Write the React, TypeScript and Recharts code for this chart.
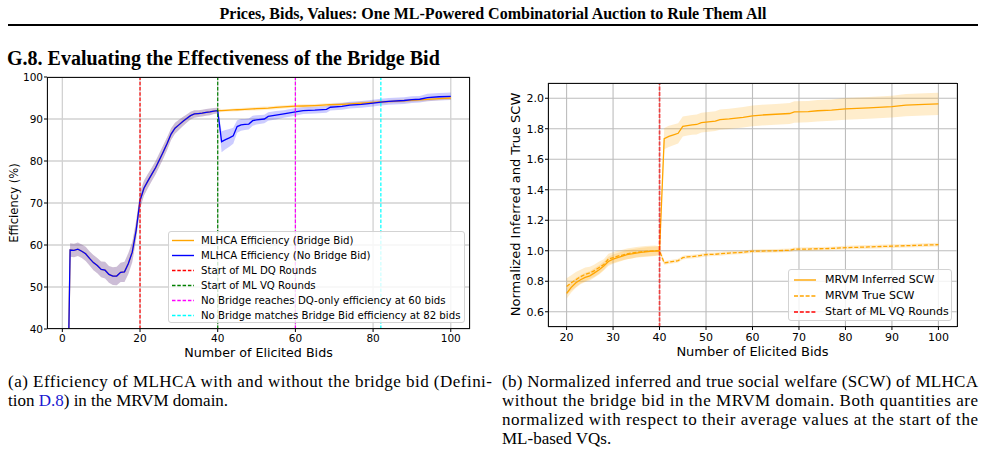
import React from "react";
import {
  ComposedChart,
  Line,
  Area,
  XAxis,
  YAxis,
  CartesianGrid,
  ReferenceLine,
} from "recharts";

// ---- (a) efficiency with / without bridge bid ----
const bidsA = [
  1, 2, 3, 4, 5, 6, 7, 8, 9, 10, 11, 12, 13, 14, 15, 16, 17, 18, 19, 20,
  21, 22, 23, 24, 25, 26, 27, 28, 29, 30, 31, 32, 33, 34, 35, 36, 37, 38, 39, 40,
  41, 42, 43, 44, 45, 46, 47, 48, 49, 50, 52, 53, 55, 57, 60, 62, 65, 68, 69, 72,
  74, 77, 80, 82, 84, 88, 90, 92, 94, 97, 100,
];

// rounds 1..40 are identical for both variants
const warmupEff = [
  0, 58.8, 58.7, 59.0, 58.5, 57.9, 56.8, 55.8, 55.1, 54.2,
  54.0, 53.0, 52.6, 52.6, 53.5, 53.6, 55.6, 58.3, 63.5, 70.6,
  73.5, 75.2, 76.8, 78.4, 80.3, 82.2, 84.2, 86.4, 87.8, 88.6,
  89.4, 90.1, 90.8, 91.2, 91.3, 91.4, 91.6, 91.7, 91.9, 92.0,
];
const warmupStd = [
  0, 1.6, 1.6, 1.6, 1.6, 1.7, 1.7, 1.8, 1.8, 1.9,
  2.0, 2.0, 2.1, 2.2, 2.3, 2.4, 2.5, 2.4, 2.2, 2.0,
  1.8, 1.7, 1.6, 1.6, 1.6, 1.6, 1.5, 1.4, 1.3, 1.2,
  1.1, 1.0, 0.9, 0.9, 0.8, 0.8, 0.8, 0.8, 0.7, 0.7,
];

const bridgeTail = [
  92.0, 92.05, 92.1, 92.15, 92.2, 92.25, 92.3, 92.35, 92.4, 92.45,
  92.55, 92.6, 92.75, 92.9, 93.05, 93.1, 93.2, 93.35, 93.4, 93.5,
  93.6, 93.75, 93.95, 94.05, 94.15, 94.35, 94.45, 94.55, 94.65, 94.85, 95.0,
];
const bridgeTailStd = [
  0.3, 0.3, 0.3, 0.35, 0.35, 0.35, 0.35, 0.4, 0.4, 0.4,
  0.4, 0.4, 0.4, 0.4, 0.4, 0.4, 0.4, 0.4, 0.4, 0.4,
  0.4, 0.4, 0.4, 0.4, 0.4, 0.4, 0.4, 0.4, 0.4, 0.4, 0.4,
];
const noBridgeTail = [
  84.6, 85.1, 85.5, 86.0, 88.2, 88.6, 88.7, 88.8, 89.6, 89.8,
  90.0, 90.6, 90.9, 91.2, 91.7, 92.0, 92.1, 92.3, 92.8, 93.0,
  93.3, 93.5, 93.8, 94.0, 94.2, 94.4, 94.6, 94.7, 95.1, 95.3, 95.4,
];
const noBridgeTailStd = [
  2.5, 2.3, 2.1, 1.9, 1.5, 1.4, 1.3, 1.3, 1.2, 1.1,
  1.0, 1.0, 1.0, 0.9, 0.9, 0.8, 0.8, 0.8, 0.8, 0.8,
  0.8, 0.8, 0.8, 0.8, 0.8, 0.8, 0.8, 0.8, 0.9, 0.9, 0.9,
];

const bridgeEff = [...warmupEff, ...bridgeTail];
const bridgeStd = [...warmupStd, ...bridgeTailStd];
const noBridgeEff = [...warmupEff, ...noBridgeTail];
const noBridgeStd = [...warmupStd, ...noBridgeTailStd];

const effTicksX = [0, 20, 40, 60, 80, 100];
const effTicksY = [40, 50, 60, 70, 80, 90, 100];

// ---- (b) normalized inferred / true SCW ----
const bidsB = [
  20, 21, 22, 23, 24, 25, 26, 27, 28, 29, 30, 31, 32, 33, 34, 35, 36, 37, 38, 39, 40,
  41, 42, 43, 44, 45, 46, 47, 48, 49, 50,
  52, 53, 55, 58, 60, 62, 65, 68, 69, 72, 74, 77, 80, 85, 90, 93, 97, 100,
];
const inferredScw = [
  0.72, 0.76, 0.79, 0.81, 0.825, 0.835, 0.855, 0.875, 0.9, 0.93, 0.945,
  0.955, 0.965, 0.975, 0.98, 0.985, 0.99, 0.993, 0.996, 0.998, 1.0,
  1.735, 1.75, 1.76, 1.77, 1.815, 1.82, 1.825, 1.828, 1.84, 1.843,
  1.85, 1.86, 1.865, 1.875, 1.885, 1.89, 1.895, 1.9, 1.91, 1.912,
  1.918, 1.922, 1.93, 1.937, 1.945, 1.955, 1.96, 1.963,
];
const inferredStd = [
  0.035, 0.033, 0.032, 0.03, 0.03, 0.03, 0.03, 0.03, 0.03, 0.03, 0.03,
  0.03, 0.03, 0.03, 0.03, 0.03, 0.03, 0.03, 0.03, 0.03, 0.03,
  0.07, 0.07, 0.068, 0.066, 0.066, 0.065, 0.065, 0.065, 0.065, 0.065,
  0.065, 0.066, 0.066, 0.067, 0.068, 0.068, 0.068, 0.069, 0.07, 0.07,
  0.07, 0.07, 0.071, 0.072, 0.072, 0.073, 0.073, 0.073,
];
const trueScw = [
  0.765, 0.79, 0.81, 0.83, 0.845, 0.855, 0.87, 0.89, 0.91, 0.945, 0.955,
  0.965, 0.972, 0.98, 0.985, 0.99, 0.993, 0.996, 0.998, 1.0, 1.0,
  0.92, 0.925, 0.93, 0.935, 0.955, 0.96, 0.962, 0.965, 0.97, 0.975,
  0.977, 0.98, 0.985, 0.99, 0.997, 0.998, 1.0, 1.003, 1.01, 1.011,
  1.013, 1.015, 1.02, 1.025, 1.03, 1.033, 1.037, 1.04,
];
const trueStd = [
  0.055, 0.05, 0.05, 0.045, 0.045, 0.04, 0.04, 0.04, 0.035, 0.035, 0.035,
  0.035, 0.035, 0.035, 0.035, 0.035, 0.035, 0.035, 0.035, 0.035, 0.03,
  0.012, 0.012, 0.012, 0.012, 0.012, 0.012, 0.012, 0.012, 0.012, 0.012,
  0.012, 0.012, 0.012, 0.012, 0.012, 0.012, 0.012, 0.012, 0.012, 0.012,
  0.012, 0.012, 0.012, 0.012, 0.012, 0.012, 0.012, 0.012,
];

const scwTicksX = [20, 30, 40, 50, 60, 70, 80, 90, 100];
const scwTicksY = [0.6, 0.8, 1.0, 1.2, 1.4, 1.6, 1.8, 2.0];

const effLegend = [
  { label: "MLHCA Efficiency (Bridge Bid)", color: "#ffa500", dash: "" },
  { label: "MLHCA Efficiency (No Bridge Bid)", color: "#0000ff", dash: "" },
  { label: "Start of ML DQ Rounds", color: "#ff0000", dash: "3.5 1.8" },
  { label: "Start of ML VQ Rounds", color: "#008000", dash: "3.5 1.8" },
  { label: "No Bridge reaches DQ-only efficiency at 60 bids", color: "#ff00ff", dash: "3.5 1.8" },
  { label: "No Bridge matches Bridge Bid efficiency at 82 bids", color: "#00ffff", dash: "3.5 1.8" },
];
const scwLegend = [
  { label: "MRVM Inferred SCW", color: "#ffa500", dash: "" },
  { label: "MRVM True SCW", color: "#ffa500", dash: "4 1.8" },
  { label: "Start of ML VQ Rounds", color: "#ff0000", dash: "4 1.8" },
];

const effData = bidsA.map((b, i) => ({
  bids: b,
  bridge: bridgeEff[i],
  noBridge: noBridgeEff[i],
  bridgeBand: [bridgeEff[i] - bridgeStd[i], bridgeEff[i] + bridgeStd[i]],
  noBridgeBand: [noBridgeEff[i] - noBridgeStd[i], noBridgeEff[i] + noBridgeStd[i]],
}));

const scwData = bidsB.map((b, i) => ({
  bids: b,
  inferred: inferredScw[i],
  truth: trueScw[i],
  inferredBand: [inferredScw[i] - inferredStd[i], inferredScw[i] + inferredStd[i]],
  truthBand: [trueScw[i] - trueStd[i], trueScw[i] + trueStd[i]],
}));

const SANS = "'DejaVu Sans', sans-serif";
const SERIF = "'Liberation Serif', 'Times New Roman', serif";

type LegendItem = { label: string; color: string; dash: string };

const LegendBox = ({
  items, left, top, width, rowH, padTop, fontSize, sampleX, textX,
}: {
  items: LegendItem[]; left: number; top: number; width: number; rowH: number;
  padTop: number; fontSize: number; sampleX: number; textX: number;
}) => (
  <div
    style={{
      position: "absolute", left, top, width,
      height: items.length * rowH + padTop * 2,
      boxSizing: "border-box",
      border: "1px solid #d3d3d3", borderRadius: 3,
      background: "rgba(255,255,255,0.8)",
      fontFamily: SANS, fontSize, color: "#000",
    }}
  >
    {items.map((it, i) => (
      <div key={i} style={{ position: "absolute", left: 0, top: padTop + i * rowH, height: rowH, width: "100%" }}>
        <svg width={24} height={rowH} style={{ position: "absolute", left: sampleX, top: 0 }}>
          <line x1={0} x2={22} y1={rowH / 2} y2={rowH / 2} stroke={it.color} strokeWidth={1.4} strokeDasharray={it.dash || undefined} />
        </svg>
        <span style={{ position: "absolute", left: textX, top: 0, lineHeight: `${rowH}px`, whiteSpace: "nowrap" }}>{it.label}</span>
      </div>
    ))}
  </div>
);

const tickStyle = (size: number) => ({ fill: "#000", fontSize: size, fontFamily: SANS });

export default function App() {
  return (
    <div style={{ position: "absolute", left: 0, top: 0, width: 986, height: 457, background: "#fff", overflow: "hidden" }}>
      <svg width={986} height={457} style={{ position: "absolute", left: 0, top: 0 }}>
        <text x={493} y={18.5} textAnchor="middle" fontFamily={SERIF} fontWeight="bold" fontSize={16}>
          Prices, Bids, Values: One ML-Powered Combinatorial Auction to Rule Them All
        </text>
        <rect x={8} y={24} width={970} height={2} fill="#000" />
        <text x={7} y={65} fontFamily={SERIF} fontWeight="bold" fontSize={20}>
          G.8. Evaluating the Effectiveness of the Bridge Bid
        </text>

        {/* axis titles */}
        <text x={13.5} y={203} transform="rotate(-90 13.5 203)" textAnchor="middle" dominantBaseline="central" fontFamily={SANS} fontSize={11.6}>
          Efficiency (%)
        </text>
        <text x={258.5} y={352} textAnchor="middle" dominantBaseline="central" fontFamily={SANS} fontSize={12.7}>
          Number of Elicited Bids
        </text>
        <text x={515} y={204.5} transform="rotate(-90 515 204.5)" textAnchor="middle" dominantBaseline="central" fontFamily={SANS} fontSize={13}>
          Normalized Inferred and True SCW
        </text>
        <text x={752.5} y={351} textAnchor="middle" dominantBaseline="central" fontFamily={SANS} fontSize={13}>
          Number of Elicited Bids
        </text>

        {/* captions */}
        <g fontFamily={SERIF} fontSize={17}>
          <text x={8} y={387} textLength={484} lengthAdjust="spacing">
            (a) Efficiency of MLHCA with and without the bridge bid (Defini-
          </text>
          <text x={8} y={406}>
            tion <tspan fill="#1a1ad0">D.8</tspan>) in the MRVM domain.
          </text>
          <text x={502} y={387} textLength={476} lengthAdjust="spacing">
            (b) Normalized inferred and true social welfare (SCW) of MLHCA
          </text>
          <text x={502} y={406} textLength={476} lengthAdjust="spacing">
            without the bridge bid in the MRVM domain. Both quantities are
          </text>
          <text x={502} y={425} textLength={476} lengthAdjust="spacing">
            normalized with respect to their average values at the start of the
          </text>
          <text x={502} y={444}>ML-based VQs.</text>
        </g>
      </svg>

      {/* (a) */}
      <div style={{ position: "absolute", left: 0, top: 60 }}>
        <ComposedChart width={490} height={300} data={effData} margin={{ top: 17, right: 20, bottom: 11, left: 17 }}>
          <CartesianGrid stroke="#d2d2d2" strokeWidth={1.3} />
          <XAxis
            dataKey="bids" type="number" domain={[-3.95, 104.95]} allowDataOverflow
            ticks={effTicksX} interval={0} height={20} tickSize={3} tickMargin={3}
            axisLine={false} tickLine={{ stroke: "#000" }} tick={tickStyle(10.5)}
          />
          <YAxis
            type="number" domain={[40, 100]} allowDataOverflow
            ticks={effTicksY} interval={0} width={30} tickSize={3} tickMargin={1}
            axisLine={false} tickLine={{ stroke: "#000" }} tick={tickStyle(10.5)}
          />
          <Area dataKey="bridgeBand" type="linear" stroke="none" fill="#ffa500" fillOpacity={0.2} isAnimationActive={false} activeDot={false} />
          <Line dataKey="bridge" type="linear" stroke="#ffa500" strokeWidth={1.3} dot={false} activeDot={false} isAnimationActive={false} />
          <Area dataKey="noBridgeBand" type="linear" stroke="none" fill="#0000ff" fillOpacity={0.2} isAnimationActive={false} activeDot={false} />
          <Line dataKey="noBridge" type="linear" stroke="#0000ff" strokeWidth={1.3} dot={false} activeDot={false} isAnimationActive={false} />
          <ReferenceLine x={20} stroke="#ff0000" strokeWidth={1.2} strokeDasharray="3.5 1.8" />
          <ReferenceLine x={40} stroke="#008000" strokeWidth={1.2} strokeDasharray="3.5 1.8" />
          <ReferenceLine x={60} stroke="#ff00ff" strokeWidth={1.2} strokeDasharray="3.5 1.8" />
          <ReferenceLine x={82} stroke="#00ffff" strokeWidth={1.2} strokeDasharray="3.5 1.8" />
        </ComposedChart>
      </div>
      <div style={{ position: "absolute", left: 47, top: 77, width: 423, height: 252, boxSizing: "border-box", border: "1px solid #111" }} />
      <LegendBox items={effLegend} left={168} top={231} width={297} rowH={15} padTop={1} fontSize={10.2} sampleX={3} textX={32} />

      {/* (b) */}
      <div style={{ position: "absolute", left: 490, top: 60 }}>
        <ComposedChart width={496} height={300} data={scwData} margin={{ top: 23, right: 29, bottom: 13, left: 28 }}>
          <CartesianGrid stroke="#bdbdbd" strokeWidth={1.1} />
          <XAxis
            dataKey="bids" type="number" domain={[16, 104]} allowDataOverflow
            ticks={scwTicksX} interval={0} height={20} tickSize={3} tickMargin={3}
            axisLine={false} tickLine={{ stroke: "#000" }} tick={tickStyle(11)}
          />
          <YAxis
            type="number" domain={[0.5, 2.1]} allowDataOverflow
            ticks={scwTicksY} interval={0} width={30} tickSize={3} tickMargin={1}
            axisLine={false} tickLine={{ stroke: "#000" }} tick={tickStyle(11)}
            tickFormatter={(v: number) => v.toFixed(1)}
          />
          <Area dataKey="inferredBand" type="linear" stroke="none" fill="#ffa500" fillOpacity={0.2} isAnimationActive={false} activeDot={false} />
          <Line dataKey="inferred" type="linear" stroke="#ffa500" strokeWidth={1.3} dot={false} activeDot={false} isAnimationActive={false} />
          <Area dataKey="truthBand" type="linear" stroke="none" fill="#ffa500" fillOpacity={0.2} isAnimationActive={false} activeDot={false} />
          <Line dataKey="truth" type="linear" stroke="#ffa500" strokeWidth={1.3} strokeDasharray="4 1.8" dot={false} activeDot={false} isAnimationActive={false} />
          <ReferenceLine x={40} stroke="#ff0000" strokeOpacity={0.65} strokeWidth={1.8} strokeDasharray="4 1.5" />
        </ComposedChart>
      </div>
      <div style={{ position: "absolute", left: 548, top: 83, width: 410, height: 244, boxSizing: "border-box", border: "1px solid #111" }} />
      <LegendBox items={scwLegend} left={788} top={269} width={164} rowH={16} padTop={2} fontSize={11} sampleX={5} textX={36} />
    </div>
  );
}
